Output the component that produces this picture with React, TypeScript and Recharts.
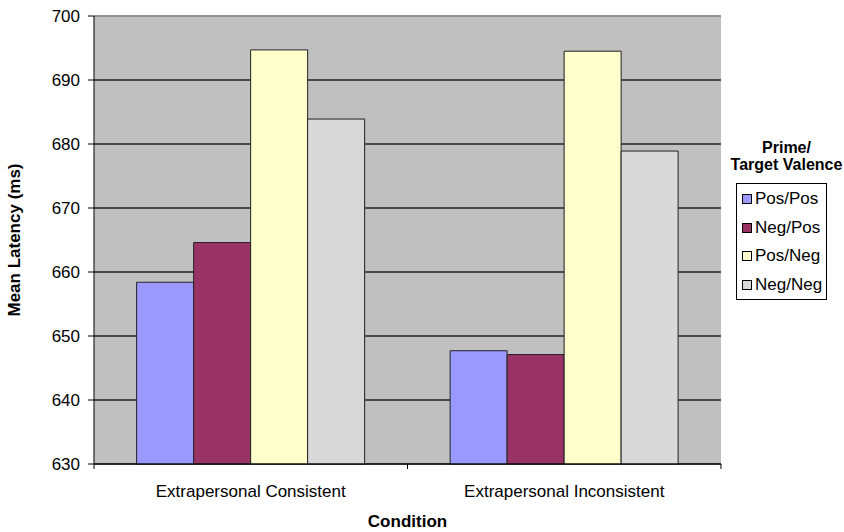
import { BarChart, Bar, XAxis, YAxis, CartesianGrid, ReferenceLine } from "recharts";

const conditions = ["Extrapersonal Consistent", "Extrapersonal Inconsistent"];
const posPos = [658.4, 647.7];
const negPos = [664.6, 647.1];
const posNeg = [694.7, 694.5];
const negNeg = [683.9, 678.9];
const yTicks = [630, 640, 650, 660, 670, 680, 690, 700];

const series = [
    { key: "posPos", name: "Pos/Pos", color: "#9999FF" },
    { key: "negPos", name: "Neg/Pos", color: "#993366" },
    { key: "posNeg", name: "Pos/Neg", color: "#FFFFCC" },
    { key: "negNeg", name: "Neg/Neg", color: "#D9D9D9" },
];

const data = conditions.map((c, i) => ({
    condition: c,
    posPos: posPos[i],
    negPos: negPos[i],
    posNeg: posNeg[i],
    negNeg: negNeg[i],
}));

const FONT = "'Liberation Sans', Arial, sans-serif";
const WIDTH = 844;
const HEIGHT = 532;
const MARGIN = { top: 16, right: 123, bottom: 0, left: 0 };
const Y_AXIS_WIDTH = 94;
const X_AXIS_HEIGHT = 68;
const BAND = (WIDTH - MARGIN.right - MARGIN.left - Y_AXIS_WIDTH) / conditions.length;

const CategoryTick = (props: any) => {
    const { x, y, payload, index } = props;
    const half = BAND / 2;
    return (
        <g>
            <line x1={x - half} y1={y - 8} x2={x - half} y2={y - 3} stroke="#000" />
            {index === conditions.length - 1 && (
                <line x1={x + half} y1={y - 8} x2={x + half} y2={y - 3} stroke="#000" />
            )}
            <text
                x={x}
                y={y + 25}
                textAnchor="middle"
                fontSize={17}
                fontFamily={FONT}
                fill="#000"
            >
                {payload.value}
            </text>
        </g>
    );
};

const LegendBox = () => (
    <div
        style={{
            position: "absolute",
            left: 726,
            top: 139,
            fontFamily: FONT,
            color: "#000",
        }}
    >
        <div
            style={{
                fontWeight: 700,
                fontSize: 16,
                textAlign: "center",
                lineHeight: "17px",
                marginBottom: 10,
                width: 121,
            }}
        >
            Prime/
            <br />
            Target Valence
        </div>
        <div
            style={{
                border: "1.5px solid #000",
                background: "#fff",
                width: 91,
                marginLeft: 10,
                padding: "1px 0 0 5px",
                boxSizing: "border-box",
            }}
        >
            {series.map((s) => (
                <div
                    key={s.key}
                    style={{
                        display: "flex",
                        alignItems: "center",
                        fontSize: 17,
                        lineHeight: "28.5px",
                        whiteSpace: "nowrap",
                    }}
                >
                    <span
                        style={{
                            display: "inline-block",
                            width: 8,
                            height: 8,
                            background: s.color,
                            border: "1px solid #000",
                            marginRight: 3,
                            flexShrink: 0,
                        }}
                    />
                    {s.name}
                </div>
            ))}
        </div>
    </div>
);

export default function App() {
    return (
        <div
            style={{
                position: "absolute",
                left: 0,
                top: 0,
                width: WIDTH,
                height: HEIGHT,
                background: "#fff",
            }}
        >
            <BarChart
                width={WIDTH}
                height={HEIGHT}
                data={data}
                margin={MARGIN}
                barCategoryGap="13.6%"
                barGap={0}
            >
                <CartesianGrid
                    vertical={false}
                    stroke="#222"
                    strokeWidth={1.5}
                    fill="#C0C0C0"
                    fillOpacity={1}
                />
                <XAxis
                    dataKey="condition"
                    height={X_AXIS_HEIGHT}
                    stroke="#000"
                    tickLine={false}
                    tick={<CategoryTick />}
                    interval={0}
                    label={{
                        value: "Condition",
                        position: "insideBottom",
                        offset: 5,
                        fontSize: 17,
                        fontWeight: 700,
                        fontFamily: FONT,
                        fill: "#000",
                    }}
                />
                <YAxis
                    width={Y_AXIS_WIDTH}
                    domain={[630, 700]}
                    ticks={yTicks}
                    interval={0}
                    stroke="#000"
                    tickSize={6}
                    tickMargin={8}
                    tick={{ fontSize: 17, fontFamily: FONT, fill: "#000" }}
                    label={{
                        value: "Mean Latency (ms)",
                        angle: -90,
                        position: "insideLeft",
                        offset: 14,
                        style: { textAnchor: "middle" },
                        fontSize: 17,
                        fontWeight: 700,
                        fontFamily: FONT,
                        fill: "#000",
                    }}
                />
                <YAxis
                    yAxisId="frame"
                    orientation="right"
                    width={0}
                    domain={[630, 700]}
                    stroke="#999"
                    tick={false}
                    tickLine={false}
                />
                <ReferenceLine y={700} stroke="#aaa" strokeWidth={1.5} />
                {series.map((s) => (
                    <Bar
                        key={s.key}
                        dataKey={s.key}
                        name={s.name}
                        fill={s.color}
                        stroke="#222"
                        strokeWidth={1}
                        isAnimationActive={false}
                    />
                ))}
            </BarChart>
            <LegendBox />
        </div>
    );
}
